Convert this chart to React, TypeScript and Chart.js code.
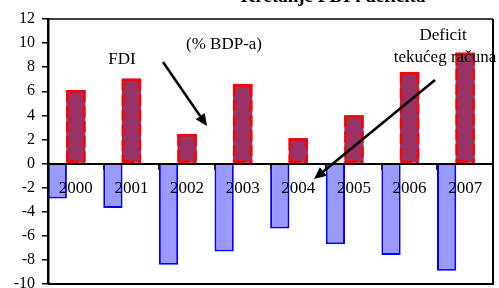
import React, { useEffect, useRef } from "react";
import { Chart, registerables } from "chart.js";

Chart.register(...registerables);

const years = ["2000", "2001", "2002", "2003", "2004", "2005", "2006", "2007"];
const deficit = [-2.9, -3.7, -8.4, -7.3, -5.4, -6.7, -7.6, -8.9];
const fdi = [6.1, 7.05, 2.45, 6.6, 2.1, 4.0, 7.6, 9.2];
const spacer = [null, null, null, null, null, null, null, null];
const yMin = -10;
const yMax = 12;
const yStep = 2;
const titleText = "Kretanje FDI i deficita";
const labelFdi = "FDI";
const labelUnit = "(% BDP-a)";
const labelDeficit1 = "Deficit";
const labelDeficit2 = "tekućeg računa";

const SERIF = "'Liberation Serif', 'Times New Roman', serif";

function arrow(ctx: CanvasRenderingContext2D, x1: number, y1: number, x2: number, y2: number) {
  const ang = Math.atan2(y2 - y1, x2 - x1);
  const headLen = 12;
  const headW = 5.5;
  const bx = x2 - headLen * Math.cos(ang);
  const by = y2 - headLen * Math.sin(ang);
  ctx.save();
  ctx.strokeStyle = "#000";
  ctx.fillStyle = "#000";
  ctx.lineWidth = 2.6;
  ctx.setLineDash([]);
  ctx.beginPath();
  ctx.moveTo(x1, y1);
  ctx.lineTo(bx, by);
  ctx.stroke();
  ctx.beginPath();
  ctx.moveTo(x2, y2);
  ctx.lineTo(bx + headW * Math.sin(ang), by - headW * Math.cos(ang));
  ctx.lineTo(bx - headW * Math.sin(ang), by + headW * Math.cos(ang));
  ctx.closePath();
  ctx.fill();
  ctx.restore();
}

const overlay = {
  id: "overlay",
  afterDatasetsDraw(chart: any) {
    const meta = chart.getDatasetMeta(1);
    const ctx: CanvasRenderingContext2D = chart.ctx;
    ctx.save();
    ctx.strokeStyle = "#FF0000";
    ctx.lineWidth = 2.6;
    ctx.lineCap = "butt";
    meta.data.forEach((el: any) => {
      const p = el.getProps(["x", "y", "base", "width"], true);
      const inset = 1.2;
      const l = p.x - p.width / 2 + inset;
      const r = p.x + p.width / 2 - inset;
      const t = p.y + inset;
      const b = p.base;
      ctx.setLineDash([]);
      ctx.beginPath();
      ctx.moveTo(l - inset, t);
      ctx.lineTo(r + inset, t);
      ctx.stroke();
      ctx.setLineDash([11, 4]);
      ctx.beginPath();
      ctx.moveTo(l, t);
      ctx.lineTo(l, b);
      ctx.stroke();
      ctx.beginPath();
      ctx.moveTo(r, t);
      ctx.lineTo(r, b);
      ctx.stroke();
      ctx.beginPath();
      ctx.moveTo(l, b - 1);
      ctx.lineTo(r, b - 1);
      ctx.stroke();
    });
    ctx.restore();
  },
  afterDraw(chart: any) {
    const ctx: CanvasRenderingContext2D = chart.ctx;
    const a = chart.chartArea;
    ctx.save();
    ctx.strokeStyle = "#000";
    ctx.setLineDash([]);
    ctx.lineWidth = 1.6;
    ctx.beginPath();
    ctx.moveTo(a.left, a.top);
    ctx.lineTo(a.right, a.top);
    ctx.stroke();
    ctx.lineWidth = 2;
    ctx.beginPath();
    ctx.moveTo(a.right, a.top);
    ctx.lineTo(a.right, a.bottom);
    ctx.stroke();
    ctx.beginPath();
    ctx.moveTo(a.left, a.bottom);
    ctx.lineTo(a.right + 1, a.bottom);
    ctx.stroke();

    ctx.fillStyle = "#000";
    ctx.font = "bold 19px " + SERIF;
    ctx.textAlign = "center";
    ctx.textBaseline = "alphabetic";
    ctx.fillText(titleText, 333, 2);

    ctx.font = "17px " + SERIF;
    ctx.textBaseline = "middle";
    ctx.fillText(labelFdi, 122, 60);
    ctx.fillText(labelUnit, 224, 45);
    ctx.fillText(labelDeficit1, 443, 36);
    ctx.fillText(labelDeficit2, 445, 58);

    arrow(ctx, 163, 62, 207, 126);
    arrow(ctx, 435, 80, 314, 179);
    ctx.restore();
  },
};

export default function App() {
  const ref = useRef<HTMLCanvasElement | null>(null);
  useEffect(() => {
    if (!ref.current) return;
    const chart = new Chart(ref.current, {
      type: "bar",
      data: {
        labels: years,
        datasets: [
          {
            label: "Deficit tekućeg računa",
            data: deficit,
            backgroundColor: "#9999FF",
            borderColor: "#0000FF",
            borderWidth: 2,
            borderSkipped: "start",
          },
          {
            label: "FDI",
            data: fdi,
            backgroundColor: "#993366",
            borderWidth: 0,
          },
          {
            label: "",
            data: spacer as any,
            backgroundColor: "rgba(0,0,0,0)",
            borderWidth: 0,
          },
        ],
      },
      options: {
        responsive: false,
        animation: false,
        maintainAspectRatio: false,
        datasets: { bar: { categoryPercentage: 1, barPercentage: 1.04 } } as any,
        layout: { padding: { top: 19, right: 6, bottom: 4, left: 0 } },
        plugins: {
          legend: { display: false },
          tooltip: { enabled: false },
          title: { display: false },
        },
        scales: {
          x: {
            position: { y: 0 } as any,
            offset: true,
            grid: {
              offset: true,
              drawOnChartArea: false,
              drawTicks: true,
              tickLength: 5,
              color: "#222",
              lineWidth: 2,
              z: 1,
            } as any,
            border: { display: true, color: "#000", width: 2, z: 1 } as any,
            ticks: {
              color: "#000",
              font: { family: SERIF, size: 17 },
              padding: 10,
              maxRotation: 0,
              autoSkip: false,
              z: 1,
            } as any,
          },
          y: {
            min: yMin,
            max: yMax,
            afterFit: (scale: any) => {
              scale.width = 48;
              scale.paddingTop = 0;
              scale.paddingBottom = 0;
            },
            grid: {
              drawOnChartArea: false,
              drawTicks: true,
              tickLength: 6,
              color: "#000",
              lineWidth: 1.5,
            },
            border: { display: true, color: "#000", width: 2.5, z: 1 } as any,
            ticks: {
              stepSize: yStep,
              color: "#000",
              font: { family: SERIF, size: 16 },
              padding: 7,
            },
          },
        },
      },
      plugins: [overlay],
    });
    return () => chart.destroy();
  }, []);
  return (
    <div style={{ position: "absolute", left: 0, top: 0, width: 499, height: 288, background: "#fff" }}>
      <canvas ref={ref} width={499} height={288} style={{ display: "block" }} />
    </div>
  );
}
